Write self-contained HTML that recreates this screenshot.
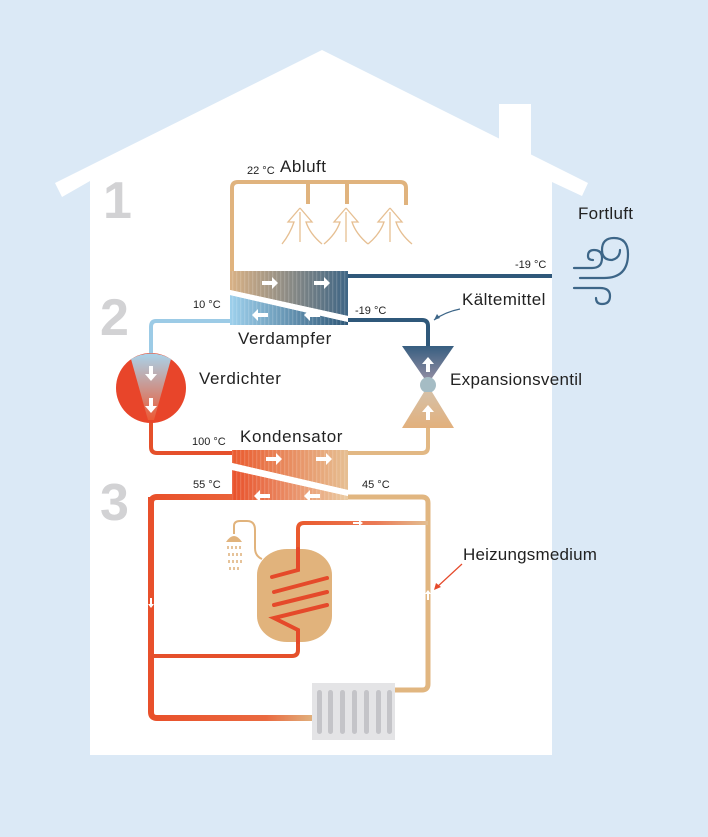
<!DOCTYPE html>
<html><head><meta charset="utf-8"><style>
html,body{margin:0;padding:0;background:#dbe9f6;}
svg{display:block;font-family:"Liberation Sans",sans-serif;}
</style></head><body>
<svg width="708" height="837" viewBox="0 0 708 837" xmlns="http://www.w3.org/2000/svg">
<defs>
<linearGradient id="evT" x1="0" x2="1"><stop offset="0" stop-color="#d9b185"/><stop offset="1" stop-color="#3e6585"/></linearGradient>
<linearGradient id="evB" x1="0" x2="1"><stop offset="0" stop-color="#9dd0ec"/><stop offset="1" stop-color="#2f5878"/></linearGradient>
<linearGradient id="knT" x1="0" x2="1"><stop offset="0" stop-color="#ea5a2e"/><stop offset="1" stop-color="#e6bf92"/></linearGradient>
<linearGradient id="knB" x1="0" x2="1"><stop offset="0" stop-color="#e9502a"/><stop offset="1" stop-color="#eacba2"/></linearGradient>
<linearGradient id="cmp" x1="0" y1="0" x2="0" y2="1"><stop offset="0" stop-color="#a9d3ea"/><stop offset="1" stop-color="#ec5a35"/></linearGradient>
<linearGradient id="vT" x1="0" y1="0" x2="0" y2="1"><stop offset="0" stop-color="#375e80"/><stop offset="1" stop-color="#8d8aa0"/></linearGradient>
<linearGradient id="vB" x1="0" y1="0" x2="0" y2="1"><stop offset="0" stop-color="#d6c0a6"/><stop offset="1" stop-color="#e2b07c"/></linearGradient>
<linearGradient id="topP" x1="0" x2="1"><stop offset="0" stop-color="#ea5a2e"/><stop offset="0.6" stop-color="#eb7a55"/><stop offset="1" stop-color="#e3bf92"/></linearGradient>
<linearGradient id="botP" x1="0" x2="1"><stop offset="0" stop-color="#e9502a"/><stop offset="0.7" stop-color="#ea6a40"/><stop offset="1" stop-color="#e0b480"/></linearGradient>
<pattern id="str" width="4" height="4" patternUnits="userSpaceOnUse"><rect width="1.3" height="4" fill="rgba(255,255,255,0.15)"/></pattern>
</defs>
<rect width="708" height="837" fill="#dbe9f6"/>
<!-- house -->
<polygon points="55,183 322,50 588,183 582,196 552,182 552,755 90,755 90,181 62,197" fill="#fff"/>
<rect x="499" y="104" width="32" height="60" fill="#fff"/>
<!-- big numbers -->
<g font-size="52" font-weight="bold" fill="#d2d2d4">
<text x="103" y="218">1</text><text x="100" y="335">2</text><text x="100" y="520">3</text>
</g>
<!-- abluft loop -->
<g fill="none" stroke="#e0b37e" stroke-width="4">
<path d="M232,275 V188 Q232,182 238,182 H400 Q406,182 406,188 V205"/>
<path d="M308,182 V204 M347,182 V204"/>
</g>
<g fill="none" stroke="#e6bf92" stroke-width="1.3">
<path d="M300,208 l-12,14 h6 q-4,12 -12,22 M300,208 l12,14 h-6 q4,12 16,22 M300,212 v30"/>
<path d="M346,208 l-12,14 h6 q-4,12 -16,22 M346,208 l12,14 h-6 q4,12 16,22 M346,212 v30"/>
<path d="M390,208 l-12,14 h6 q-4,12 -16,22 M390,208 l12,14 h-6 q4,12 16,22 M390,212 v30"/>
</g>
<!-- dark pipes -->
<path d="M348,276 H552" stroke="#2f587a" stroke-width="4" fill="none"/>
<path d="M348,320 H422 Q428,320 428,326 V348" stroke="#2f587a" stroke-width="4" fill="none"/>
<path d="M232,321 H156 Q151,321 151,327 V358" stroke="#9ccbe6" stroke-width="4" fill="none"/>
<!-- evaporator -->
<polygon points="230,271 348,271 348,316 230,290" fill="url(#evT)"/>
<polygon points="230,295 348,322 348,325 230,325" fill="url(#evB)"/>
<polygon points="230,290 348,316 348,322 230,295" fill="#fff"/>
<rect x="230" y="271" width="118" height="54" fill="url(#str)"/>
<g fill="#fff"><path d="M262,281 h10 v-4 l6,6 -6,6 v-4 h-10z"/><path d="M314,281 h10 v-4 l6,6 -6,6 v-4 h-10z"/>
<path d="M268,313 h-10 v-4 l-6,6 6,6 v-4 h10z"/><path d="M320,313 h-10 v-4 l-6,6 6,6 v-4 h10z"/></g>
<!-- compressor -->
<path d="M151,418 V447 Q151,453 157,453 H232" stroke="#e5502b" stroke-width="4" fill="none"/>
<circle cx="151" cy="388" r="35" fill="#e8452a"/>
<path d="M131,359 Q151,348 171,359 L154,420 H148 Z" fill="url(#cmp)"/>
<g fill="#fff"><path d="M149,366 h4 v8 h4 l-6,7 -6,-7 h4z"/><path d="M149,398 h4 v8 h4 l-6,7 -6,-7 h4z"/></g>
<!-- expansion valve -->
<polygon points="402,346 454,346 432,378 424,378" fill="url(#vT)"/>
<circle cx="428" cy="385" r="8" fill="#a5bcc4"/>
<polygon points="424,392 432,392 454,428 402,428" fill="url(#vB)"/>
<g fill="#fff"><path d="M426,372 h4 v-8 h4 l-6,-7 -6,7 h4z"/><path d="M426,420 h4 v-8 h4 l-6,-7 -6,7 h4z"/></g>
<path d="M348,453 H422 Q428,453 428,447 V428" stroke="#e2b884" stroke-width="4" fill="none"/>
<!-- heating circuit -->
<path d="M232,497 H157 Q151,497 151,503 V712 Q151,718 157,718 H315" stroke="url(#botP)" stroke-width="6" fill="none"/>
<path d="M151,497 V712" stroke="#e8502b" stroke-width="6"/>
<path d="M348,497 H422 Q428,497 428,503 V684 Q428,690 422,690 H395" stroke="#e1b680" stroke-width="5" fill="none"/>
<!-- kondensator -->
<polygon points="232,450 348,450 348,490 232,463" fill="url(#knT)"/>
<polygon points="232,470 348,496 348,500 232,500" fill="url(#knB)"/>
<polygon points="232,463 348,490 348,496 232,470" fill="#fff"/>
<rect x="232" y="450" width="116" height="50" fill="url(#str)"/>
<g fill="#fff"><path d="M266,457 h10 v-4 l6,6 -6,6 v-4 h-10z"/><path d="M316,457 h10 v-4 l6,6 -6,6 v-4 h-10z"/>
<path d="M270,494 h-10 v-4 l-6,6 6,6 v-4 h10z"/><path d="M320,494 h-10 v-4 l-6,6 6,6 v-4 h10z"/></g>
<!-- tank -->
<path d="M298,555 V529 Q298,523 304,523 H428" stroke="url(#topP)" stroke-width="4" fill="none"/>
<path d="M298,630 V650 Q298,656 292,656 H151" stroke="#e5502b" stroke-width="4" fill="none"/>
<rect x="257" y="549" width="75" height="93" rx="30" ry="26" fill="#e1b37c"/>
<g stroke="#e5492a" stroke-width="4" fill="none" stroke-linecap="round">
<path d="M298,549 V570 L272,577 M274,592 L327,578 M274,605 L327,592 M327,605 L274,618 L298,630 V642"/>
</g>
<!-- shower -->
<path d="M234,534 V526 Q234,521 240,521 H247 Q255,521 255,530 V548 Q255,556 262,559" stroke="#e1b37c" stroke-width="2" fill="none"/>
<path d="M226,542 Q234,530 242,542 Z" fill="#e1b37c"/>
<g fill="#e6c39a"><rect x="227" y="546" width="2" height="3"/><rect x="231" y="546" width="2" height="3"/><rect x="235" y="546" width="2" height="3"/><rect x="239" y="546" width="2" height="3"/>
<rect x="228" y="553" width="2" height="3"/><rect x="232" y="553" width="2" height="3"/><rect x="236" y="553" width="2" height="3"/><rect x="240" y="553" width="2" height="3"/>
<rect x="228" y="560" width="2" height="3"/><rect x="232" y="560" width="2" height="3"/><rect x="236" y="560" width="2" height="3"/><rect x="240" y="560" width="2" height="3"/>
<rect x="229" y="567" width="2" height="3"/><rect x="233" y="567" width="2" height="3"/><rect x="237" y="567" width="2" height="3"/></g>
<!-- radiator -->
<rect x="312" y="683" width="83" height="57" fill="#e4e4e6"/>
<g fill="#c4c4c8"><rect x="317" y="690" width="5" height="44" rx="2.5"/><rect x="328" y="690" width="5" height="44" rx="2.5"/><rect x="340" y="690" width="5" height="44" rx="2.5"/><rect x="352" y="690" width="5" height="44" rx="2.5"/><rect x="364" y="690" width="5" height="44" rx="2.5"/><rect x="376" y="690" width="5" height="44" rx="2.5"/><rect x="387" y="690" width="5" height="44" rx="2.5"/></g>
<!-- small arrows on pipes -->
<g fill="#fff"><path d="M150,598 h2 v6 h2 l-3,4 -3,-4 h2z"/><path d="M427,600 h2 v-6 h2 l-3,-4 -3,4 h2z"/><path d="M353,522 h6 v-2 l4,3 -4,3 v-2 h-6z"/></g>
<!-- wind icon -->
<g fill="none" stroke="#3d6688" stroke-width="2.2" stroke-linecap="round">
<path d="M574,268 H592 Q602,268 602,258 Q602,250 594,250 Q588,250 588,256 Q588,260 593,260"/>
<path d="M580,278 H604 Q628,278 628,254 Q628,238 614,238 Q602,238 602,250 Q602,260 612,260 Q620,258 620,250"/>
<path d="M574,288 H600 Q610,288 610,296 Q610,304 602,304 Q596,304 596,298"/>
</g>
<!-- annotation arrows -->
<path d="M460,309 Q445,312 434,320" stroke="#3d6688" stroke-width="1.2" fill="none"/>
<path d="M434,320 l3,-6 3,4z" fill="#3d6688"/>
<path d="M462,564 L436,588" stroke="#e5492a" stroke-width="1.2" fill="none"/>
<path d="M434,590 l2,-7 5,4z" fill="#e5492a"/>
<!-- labels -->
<g fill="#222">
<text x="247" y="174" font-size="11">22 °C</text>
<text x="280" y="172" font-size="17" letter-spacing="0.5">Abluft</text>
<text x="578" y="219" font-size="17" letter-spacing="0.3">Fortluft</text>
<text x="515" y="268" font-size="11">-19 °C</text>
<text x="462" y="305" font-size="17" letter-spacing="0.4">Kältemittel</text>
<text x="193" y="308" font-size="11">10 °C</text>
<text x="355" y="314" font-size="11">-19 °C</text>
<text x="238" y="344" font-size="17" letter-spacing="0.6">Verdampfer</text>
<text x="199" y="384" font-size="17" letter-spacing="0.6">Verdichter</text>
<text x="450" y="385" font-size="17" letter-spacing="0.3">Expansionsventil</text>
<text x="192" y="445" font-size="11">100 °C</text>
<text x="240" y="442" font-size="17" letter-spacing="0.6">Kondensator</text>
<text x="193" y="488" font-size="11">55 °C</text>
<text x="362" y="488" font-size="11">45 °C</text>
<text x="463" y="560" font-size="17" letter-spacing="0.2">Heizungsmedium</text>
</g>
</svg>
</body></html>
